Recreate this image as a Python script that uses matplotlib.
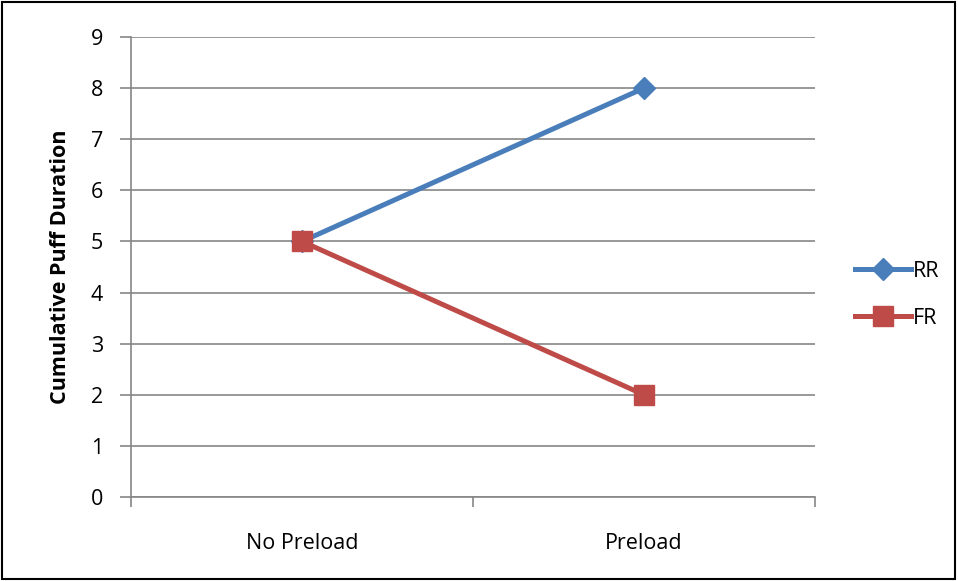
import matplotlib
matplotlib.use('Agg')
import matplotlib.pyplot as plt
from matplotlib.patches import Rectangle

plt.rcParams['font.family'] = ['Open Sans', 'DejaVu Sans']

categories = ['No Preload', 'Preload']
rr = [5, 8]
fr = [5, 2]
yticks = list(range(0, 10))

blue = '#4a7ebb'
red = '#be4b48'
grid = '#868686'
fs = 15.5

fig = plt.figure(figsize=(9.58, 5.81), dpi=100)
ax = fig.add_axes([131/958, 1 - 497/581, 684/958, 460/581])

xs = [0.5, 1.5]
ax.plot(xs, rr, color=blue, lw=3.6, marker='D', ms=11, label='RR', zorder=3)
ax.plot(xs, fr, color=red, lw=3.6, marker='s', ms=14, label='FR', zorder=4)

ax.set_xlim(0, 2)
ax.set_ylim(0, 9)
ax.set_yticks(yticks)
ax.set_xticks(xs)
ax.set_xticklabels(categories)
ax.set_xticks([0, 1, 2], minor=True)
ax.tick_params(axis='x', which='major', length=0, pad=26, labelsize=fs)
ax.tick_params(axis='x', which='minor', length=7, direction='out', color=grid, width=1.2)
ax.tick_params(axis='y', length=8, color=grid, width=1.2, labelsize=fs, pad=12)
ax.grid(axis='y', color=grid, lw=1.2)
ax.set_axisbelow(True)
for side in ['top', 'right']:
    ax.spines[side].set_visible(False)
for side in ['left', 'bottom']:
    ax.spines[side].set_color(grid)
    ax.spines[side].set_linewidth(1.2)

ax.set_ylabel('Cumulative Puff Duration', fontsize=fs, fontweight='bold', labelpad=14)

ax.legend(loc='center left', bbox_to_anchor=(1.03, 0.44), frameon=False,
          fontsize=fs, handlelength=2.6, labelspacing=1.2, handletextpad=0.1)

fig.patches.append(Rectangle((0.002, 0.003), 0.995, 0.994, transform=fig.transFigure,
                             fill=False, edgecolor='black', lw=1.5))

fig.savefig('out.png', dpi=100)
